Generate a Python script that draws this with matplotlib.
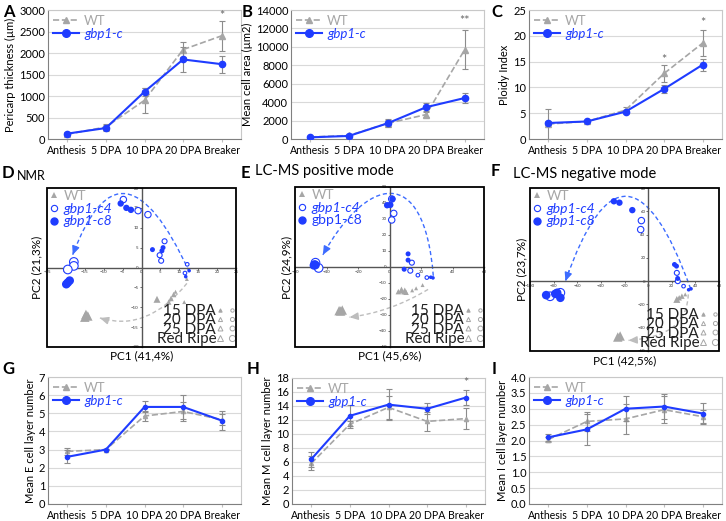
import numpy as np
import matplotlib
matplotlib.use('Agg')
import matplotlib.pyplot as plt
from matplotlib.lines import Line2D
from matplotlib.patches import Rectangle, PathPatch
from matplotlib.path import Path
from matplotlib.legend_handler import HandlerTuple

plt.rcParams['font.family'] = ['Lato', 'DejaVu Sans']

BLUE = '#1f3cff'
ABLUE = '#3d6cff'
GRAY = '#a6a6a6'
AGRAY = '#bdbdbd'
ERR = '#8c8c8c'

# ---------------- line-chart data ----------------
stages = ['Anthesis', '5 DPA', '10 DPA', '20 DPA', 'Breaker']

peri_wt = [110, 280, 900, 2080, 2400]
peri_wt_err = [40, 70, 290, 170, 350]
peri_gb = [125, 255, 1100, 1850, 1740]
peri_gb_err = [30, 60, 90, 300, 200]

area_wt = [220, 380, 1700, 2650, 9700]
area_wt_err = [100, 150, 450, 300, 2150]
area_gb = [180, 330, 1700, 3450, 4450]
area_gb_err = [100, 120, 400, 450, 500]

ploidy_wt = [2.9, 3.4, 5.6, 12.7, 18.6]
ploidy_wt_err = [2.9, 0.2, 0.6, 1.7, 2.6]
ploidy_gb = [3.1, 3.4, 5.3, 9.7, 14.4]
ploidy_gb_err = [0.3, 0.2, 0.3, 0.7, 1.2]

elay_wt = [2.9, 3.0, 4.85, 5.1, 4.65]
elay_wt_err = [0.2, 0.05, 0.25, 0.5, 0.3]
elay_gb = [2.6, 3.0, 5.35, 5.35, 4.6]
elay_gb_err = [0.35, 0.05, 0.3, 0.65, 0.5]

mlay_wt = [5.8, 11.4, 13.8, 11.8, 12.2]
mlay_wt_err = [1.0, 0.5, 1.6, 1.4, 1.5]
mlay_gb = [6.4, 12.6, 14.2, 13.6, 15.2]
mlay_gb_err = [1.1, 1.5, 2.2, 0.8, 1.1]

ilay_wt = [2.03, 2.6, 2.68, 2.97, 2.75]
ilay_wt_err = [0.08, 0.3, 0.48, 0.42, 0.2]
ilay_gb = [2.1, 2.35, 3.0, 3.07, 2.85]
ilay_gb_err = [0.12, 0.5, 0.4, 0.4, 0.32]

stars_A = [(4, 2870, '*')]
stars_B = [(4, 12800, '**')]
stars_C = [(3, 15.4, '*'), (4, 22.4, '*')]
stars_H = [(4, 17.3, '*')]

# ---------------- PCA data ----------------
pca_stages = ['15 DPA', '20 DPA', '25 DPA', 'Red Ripe']
stage_ms = [2.6, 3.6, 4.6, 6.2]

nmr_wt_x = [12.0, 9.0, 11.3, 7.2, 7.8, 8.5, 4.1, -14.7, -14.2, -15.0]
nmr_wt_y = [-2.9, -6.1, -8.7, -8.7, -7.8, -6.8, -8.0, -11.8, -12.2, -12.5]
nmr_wt_s = [0, 0, 0, 1, 1, 1, 2, 3, 3, 3]
nmr_c4_x = [12.1, 11.5, 6.1, 4.8, 5.2, -4.8, -0.9, 1.7, -17.9, -17.9, -19.5]
nmr_c4_y = [0.8, -1.4, 6.6, 3.1, 1.7, 17.1, 14.3, 13.3, 1.4, 0.4, -0.5]
nmr_c4_s = [0, 0, 1, 1, 1, 2, 2, 2, 3, 3, 3]
nmr_c8_x = [12.6, 11.7, 2.9, 5.4, 5.7, -5.5, -4.0, -2.8, -19.9, -19.5, -19.0]
nmr_c8_y = [-0.8, -2.3, 4.5, 4.2, 5.0, 16.1, 15.0, 14.5, -4.2, -3.8, -3.3]
nmr_c8_s = [0, 0, 1, 1, 1, 2, 2, 2, 3, 3, 3]
nmr_blue_arrow = [(12.6, -1.0), (-5.3, 36.0), (-18.2, 3.2)]
nmr_gray_arrow = [(12.0, -4.0), (1.5, -16.4), (-11.0, -12.7)]

pos_wt_x = [14.4, 16.9, 21.0, 5.6, 10.5, 7.6, 9.7, -32.0, -30.0, -31.0]
pos_wt_y = [-14.6, -13.3, -11.3, -15.4, -15.8, -14.4, -15.0, -27.3, -26.9, -27.5]
pos_wt_s = [0, 0, 0, 1, 1, 2, 2, 3, 3, 3]
pos_c4_x = [23.7, 18.0, 14.2, 13.2, 1.4, 2.7, 1.4, -45.0, -47.0]
pos_c4_y = [-6.6, -5.1, 2.7, -2.3, 42.5, 33.5, 29.4, -0.6, 2.7]
pos_c4_s = [0, 0, 1, 1, 2, 2, 2, 3, 3]
pos_c8_x = [26.2, 27.6, 11.8, 11.8, 9.3, -1.5, 0.5, 1.9, -48.0, -47.5, -47.0]
pos_c8_y = [-6.4, -6.8, 8.2, 4.3, -1.4, 38.6, 38.8, 42.5, 1.0, 1.6, 1.2]
pos_c8_s = [0, 0, 1, 1, 1, 2, 2, 2, 3, 3, 3]
pos_blue_arrow = [(27.8, -5.5), (22.0, 66.0), (-15.0, 56.0), (-42.3, 7.6)]
pos_gray_arrow = [(24.5, -14.0), (0.4, -28.3), (-25.4, -31.4)]

neg_wt_x = [24.3, 26.3, 28.6, 31.4, -25.7, -23.7]
neg_wt_y = [-15.7, -14.3, -12.9, -11.4, -48.0, -47.1]
neg_wt_s = [2, 1, 1, 0, 3, 3]
neg_c4_x = [30.0, 24.3, 25.1, -5.7, -6.3, -74.3, -83.0]
neg_c4_y = [-4.3, 7.1, 0.0, 52.0, 44.3, -10.0, -13.0]
neg_c4_s = [0, 1, 1, 2, 2, 3, 3]
neg_c8_x = [34.3, 36.3, 22.3, 24.0, 25.0, -29.0, -24.3, -13.4, -86.3, -78.6, -77.0, -74.3]
neg_c8_y = [-7.4, -6.6, 14.3, 12.9, 2.3, 68.6, 67.4, 61.0, -12.0, -10.9, -10.0, -14.3]
neg_c8_s = [0, 0, 1, 1, 1, 2, 2, 2, 3, 3, 3, 3]
neg_blue_arrow = [(36.0, -6.6), (-19.0, 149.0), (-70.0, 0.0)]
neg_gray_arrow = [(34.0, -11.4), (33.0, -48.0), (-16.6, -50.9)]

W, H = 726, 521
fig = plt.figure(figsize=(W / 100, H / 100), dpi=100)


def rect(l, t, r, b):
    return [l / W, 1 - b / H, (r - l) / W, (b - t) / H]


def line_panel(box, wt, wt_err, gb, gb_err, ymax, ystep, ylabel, stars, ms):
    ax = fig.add_axes(rect(*box))
    x = np.arange(len(stages))
    ax.yaxis.grid(True, color='#d9d9d9', lw=0.8)
    ax.set_axisbelow(True)
    ax.errorbar(x, wt, yerr=wt_err, color=GRAY, ls='--', lw=1.2, marker='^', ms=ms,
                ecolor=ERR, elinewidth=0.8, capsize=2, capthick=0.8, zorder=3)
    ax.errorbar(x, gb, yerr=gb_err, color=BLUE, ls='-', lw=1.5, marker='o', ms=ms,
                ecolor=ERR, elinewidth=0.8, capsize=2, capthick=0.8, zorder=4)
    ax.set_xlim(-0.5, len(stages) - 0.5)
    ax.set_ylim(0, ymax)
    ax.set_yticks(np.arange(0, ymax + ystep / 2, ystep))
    ax.set_xticks(x)
    ax.set_xticklabels(stages)
    ax.tick_params(axis='x', labelsize=7.6, length=2.5, color='#bfbfbf', pad=1.5)
    ax.tick_params(axis='y', labelsize=8, length=0, pad=2)
    for s in ['left', 'bottom']:
        ax.spines[s].set_color('#808080')
        ax.spines[s].set_linewidth(0.8)
    for s in ['top', 'right']:
        ax.spines[s].set_color('#c8c8c8')
        ax.spines[s].set_linewidth(0.8)
    ax.set_ylabel(ylabel, fontsize=8, labelpad=2)
    for sx, sy, st in stars:
        ax.text(sx, sy, st, ha='center', va='center', fontsize=9, color='#666666')
    h = [Line2D([], [], color=GRAY, ls='--', lw=1.2, marker='^', ms=4),
         Line2D([], [], color=BLUE, ls='-', lw=1.5, marker='o', ms=5.5)]
    leg = ax.legend(h, ['WT', 'gbp1-c'], loc='upper left', frameon=False, fontsize=9.5,
                    handlelength=2.0, handletextpad=0.4, labelspacing=0.1,
                    borderaxespad=0.15, borderpad=0.2)
    t = leg.get_texts()
    t[0].set_color(GRAY)
    t[1].set_color(BLUE)
    t[1].set_style('italic')
    return ax


def draw_curve(ax, pts, color):
    pts = np.asarray(pts, dtype=float)
    if len(pts) == 3:
        codes = [Path.MOVETO, Path.CURVE3, Path.CURVE3]
    else:
        codes = [Path.MOVETO, Path.CURVE4, Path.CURVE4, Path.CURVE4]
    ax.add_patch(PathPatch(Path(pts, codes), fill=False, ec=color, lw=1.0,
                           ls=(0, (3, 2)), zorder=2))
    d = pts[-1] - pts[-2]
    start = pts[-1] - 0.06 * d
    ax.annotate('', xy=pts[-1], xytext=start,
                arrowprops=dict(arrowstyle='-|>,head_length=0.5,head_width=0.22',
                                color=color, lw=1.0, shrinkA=0, shrinkB=0), zorder=2)


def pca_panel(box, xlim, ylim, xstep, ystep, wt, c4, c8, barrow, garrow,
              xlabel, ylabel, xl_off, yl_off, c8_italic=True):
    ax = fig.add_axes(rect(*box))
    ax.set_xlim(*xlim)
    ax.set_ylim(*ylim)
    ax.set_xticks(np.arange(xlim[0], xlim[1] + xstep / 2, xstep))
    ax.set_yticks(np.arange(ylim[0], ylim[1] + ystep / 2, ystep))
    ax.spines['left'].set_position(('data', 0))
    ax.spines['bottom'].set_position(('data', 0))
    for s in ['left', 'bottom']:
        ax.spines[s].set_color('#555555')
        ax.spines[s].set_linewidth(1.0)
    ax.spines['top'].set_visible(False)
    ax.spines['right'].set_visible(False)
    ax.add_patch(Rectangle((0, 0), 1, 1, transform=ax.transAxes, fill=False,
                           ec='black', lw=1.3, clip_on=False, zorder=6))
    ax.tick_params(labelsize=3.2, length=1.5, width=0.5, pad=0.5, colors='#333333')

    draw_curve(ax, barrow, ABLUE)
    draw_curve(ax, garrow, AGRAY)

    for (xs, ys, ss), kind in [(wt, 'wt'), (c4, 'c4'), (c8, 'c8')]:
        xs = np.asarray(xs); ys = np.asarray(ys); ss = np.asarray(ss)
        sz = np.asarray(stage_ms)[ss] ** 2
        if kind == 'wt':
            ax.scatter(xs, ys, s=sz * 1.2, marker='^', color=GRAY, lw=0, zorder=3)
        elif kind == 'c4':
            ax.scatter(xs, ys, s=sz, marker='o', facecolors='white', edgecolors=BLUE,
                       lw=0.8, zorder=4)
        else:
            ax.scatter(xs, ys, s=sz, marker='o', color=BLUE, lw=0, zorder=5)

    h = [Line2D([], [], marker='^', color=GRAY, ls='none', ms=4.5, mew=0),
         Line2D([], [], marker='o', mfc='white', mec=BLUE, ls='none', ms=4.5, mew=0.8),
         Line2D([], [], marker='o', color=BLUE, ls='none', ms=5)]
    leg = ax.legend(h, ['WT', 'gbp1-c4', 'gbp1-c8'], loc='upper left', frameon=False,
                    fontsize=10, handlelength=0.7, handletextpad=0.35, labelspacing=0.05,
                    borderaxespad=0.1, borderpad=0.05)
    t = leg.get_texts()
    t[0].set_color(GRAY)
    t[1].set_color(BLUE)
    t[1].set_style('italic')
    t[2].set_color(BLUE)
    if c8_italic:
        t[2].set_style('italic')
    ax.add_artist(leg)

    sh = []
    for i, m in enumerate(stage_ms):
        tri = Line2D([], [], marker='^', ls='none', ms=m * 0.55 + 1,
                     mfc=(GRAY if i == 0 else 'none'), mec=GRAY, mew=0.7)
        cir = Line2D([], [], marker='o', ls='none', ms=m * 0.55 + 1,
                     mfc='none', mec=GRAY, mew=0.7)
        sh.append((tri, cir))
    leg2 = ax.legend(sh, pca_stages, loc='lower right', frameon=False, fontsize=11,
                     markerfirst=False, handler_map={tuple: HandlerTuple(ndivide=None, pad=0.4)},
                     handlelength=1.2, handletextpad=0.05, labelspacing=-0.3,
                     borderaxespad=0.05, borderpad=0.0)
    for tt in leg2.get_texts():
        tt.set_color('#222222')

    ax.text(0.5, xl_off, xlabel, transform=ax.transAxes, ha='center', va='center', fontsize=8.5)
    ax.text(yl_off, 0.5, ylabel, transform=ax.transAxes, ha='center', va='center',
            rotation=90, fontsize=8.5)
    return ax


line_panel((48, 10, 241, 139), peri_wt, peri_wt_err, peri_gb, peri_gb_err, 3000, 500,
           'Pericarp thickness (µm)', stars_A, 4.5)
line_panel((291, 10, 484, 139), area_wt, area_wt_err, area_gb, area_gb_err, 14000, 2000,
           'Mean cell area (µm2)', stars_B, 4.5)
line_panel((529, 10, 722, 139), ploidy_wt, ploidy_wt_err, ploidy_gb, ploidy_gb_err, 25, 5,
           'Ploidy Index', stars_C, 4.5)

line_panel((48, 377, 241, 504), elay_wt, elay_wt_err, elay_gb, elay_gb_err, 7, 1,
           'Mean E cell layer number', [], 3)
line_panel((292, 378, 485, 504), mlay_wt, mlay_wt_err, mlay_gb, mlay_gb_err, 18, 2,
           'Mean M cell layer number', stars_H, 3)
line_panel((529, 377, 722, 504), ilay_wt, ilay_wt_err, ilay_gb, ilay_gb_err, 4, 0.5,
           'Mean I cell layer number', [], 3)

pca_panel((47, 188, 236, 347), (-25, 25), (-20, 20), 5, 5,
          (nmr_wt_x, nmr_wt_y, nmr_wt_s), (nmr_c4_x, nmr_c4_y, nmr_c4_s),
          (nmr_c8_x, nmr_c8_y, nmr_c8_s), nmr_blue_arrow, nmr_gray_arrow,
          'PC1 (41,4%)', 'PC2 (21,3%)', -0.055, -0.055)
pca_panel((295, 187, 484, 347), (-60, 60), (-50, 50), 20, 10,
          (pos_wt_x, pos_wt_y, pos_wt_s), (pos_c4_x, pos_c4_y, pos_c4_s),
          (pos_c8_x, pos_c8_y, pos_c8_s), pos_blue_arrow, pos_gray_arrow,
          'PC1 (45,6%)', 'PC2 (24,9%)', -0.055, -0.045, c8_italic=False)
pca_panel((530, 188, 719, 351), (-100, 60), (-60, 80), 20, 20,
          (neg_wt_x, neg_wt_y, neg_wt_s), (neg_c4_x, neg_c4_y, neg_c4_s),
          (neg_c8_x, neg_c8_y, neg_c8_s), neg_blue_arrow, neg_gray_arrow,
          'PC1 (42,5%)', 'PC2 (23,7%)', -0.06, -0.045)


def label(x, y, s, size=12, weight='bold'):
    fig.text(x / W, 1 - y / H, s, fontsize=size, fontweight=weight, va='top', ha='left')


label(3, 4, 'A')
label(242, 4, 'B')
label(491, 4, 'C')
label(2, 165, 'D')
label(17, 170, 'NMR', size=9, weight='normal')
label(241, 165, 'E')
label(255, 164, 'LC-MS positive mode', size=10.5, weight='normal')
label(491, 163, 'F')
label(513, 167, 'LC-MS negative mode', size=10.5, weight='normal')
label(2, 361, 'G')
label(247, 361, 'H')
label(492, 361, 'I')

fig.savefig('out.png', dpi=100)
